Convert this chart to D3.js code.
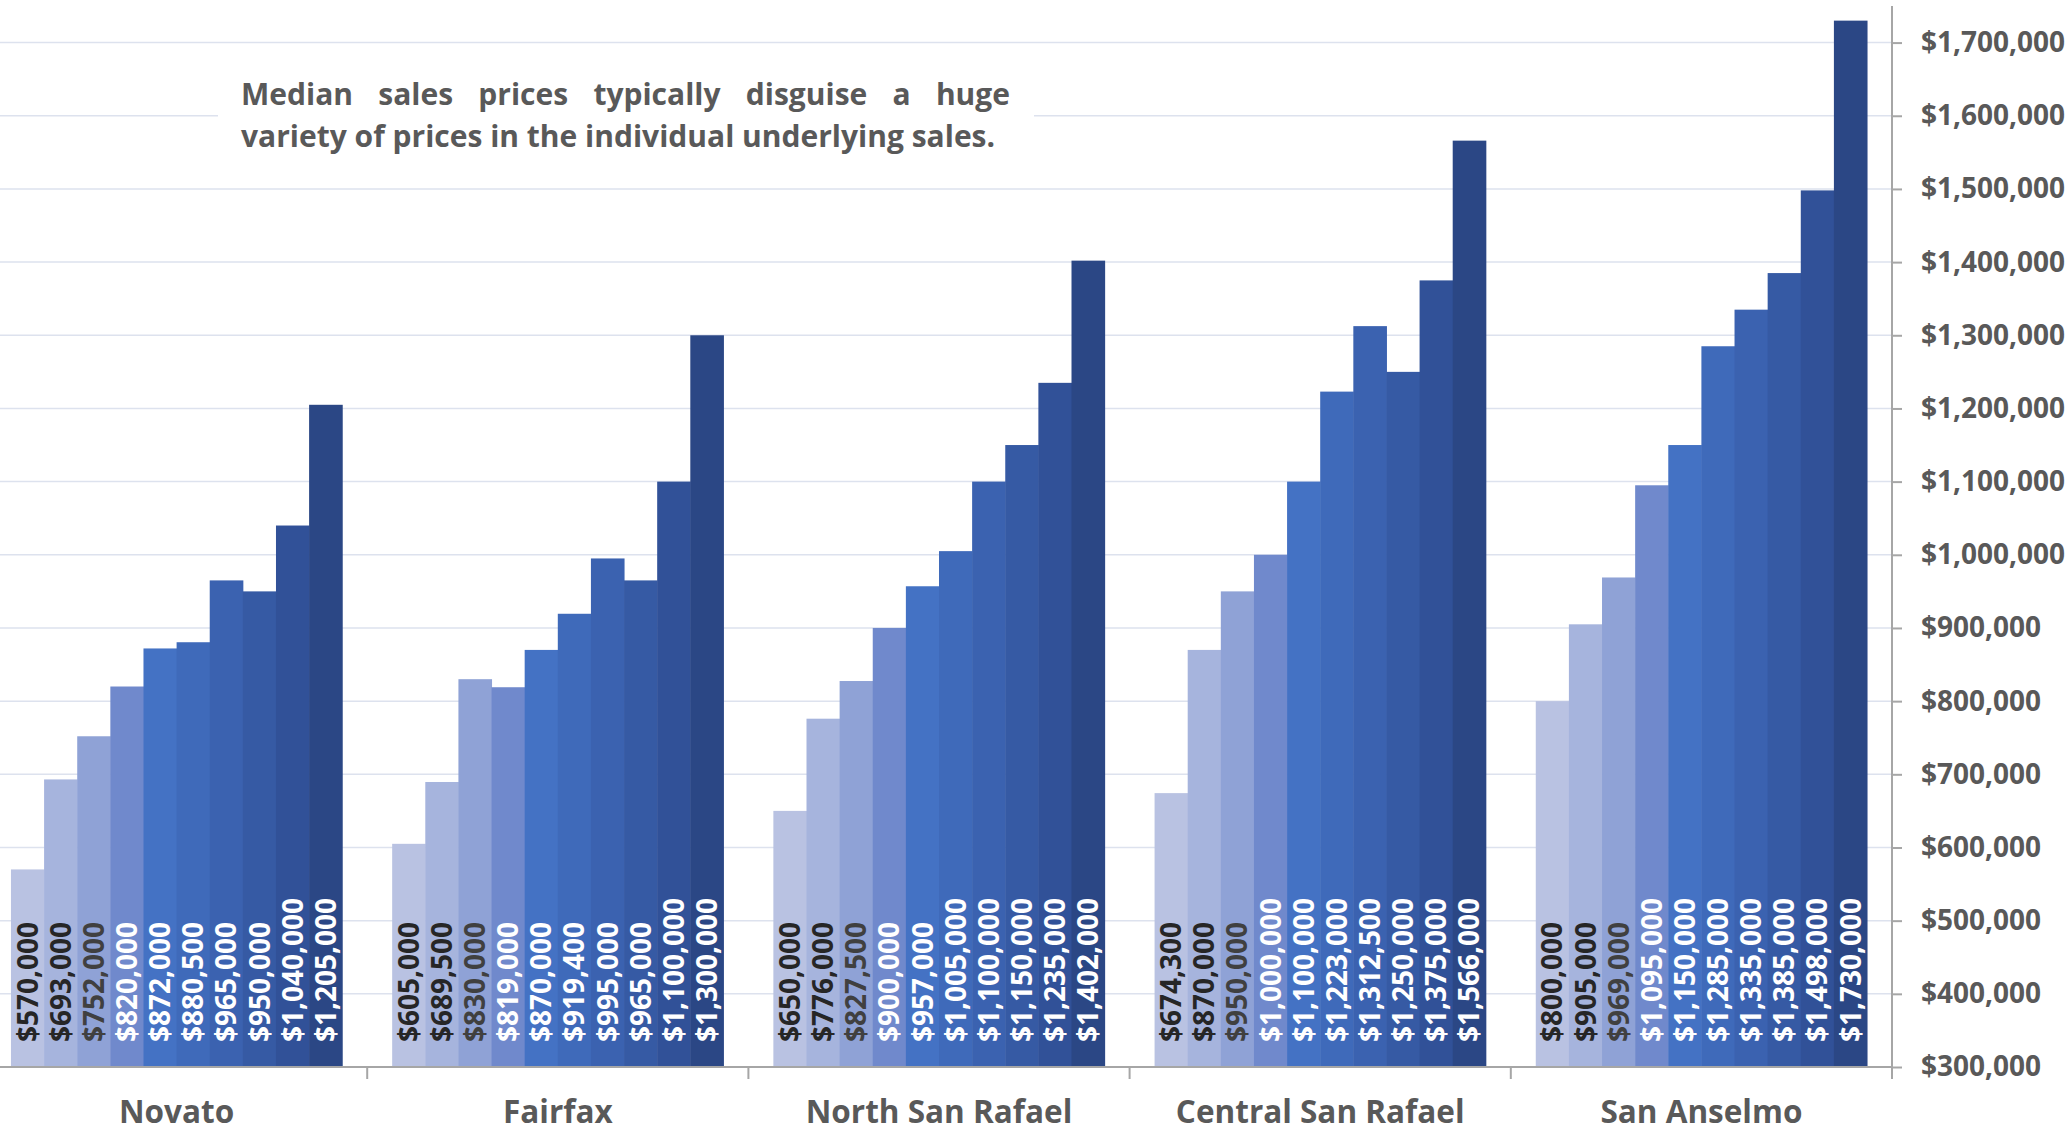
<!DOCTYPE html>
<html>
<head>
<meta charset="utf-8">
<script src="https://cdn.jsdelivr.net/npm/d3@7"></script>
<style>
body{margin:0;background:#fff;}
svg{display:block;}
text{font-family:"Open Sans",sans-serif;font-weight:bold;}
</style>
</head>
<body>
<svg id="chart"></svg>
<script>
// median sale prices, 10 price groups per area
var categories=["Novato","Fairfax","North San Rafael","Central San Rafael","San Anselmo"];
var novato=[570000,693000,752000,820000,872000,880500,965000,950000,1040000,1205000];
var fairfax=[605000,689500,830000,819000,870000,919400,995000,965000,1100000,1300000];
var northSR=[650000,776000,827500,900000,957000,1005000,1100000,1150000,1235000,1402000];
var centralSR=[674300,870000,950000,1000000,1100000,1223000,1312500,1250000,1375000,1566000];
var sanAnselmo=[800000,905000,969000,1095000,1150000,1285000,1335000,1385000,1498000,1730000];
var yTicks=[300000,400000,500000,600000,700000,800000,900000,1000000,1100000,1200000,1300000,1400000,1500000,1600000,1700000];
var note1="Median sales prices typically disguise a huge";
var note2="variety of prices in the individual underlying sales.";

var values=[novato,fairfax,northSR,centralSR,sanAnselmo];
var colors=["#b9c2e2","#a6b4dd","#8fa2d6","#7089cc","#4472c4","#3f6aba","#3b62b0","#365aa4","#315198","#2b4785"];
var lblColors=["#262626","#262626","#404040","#fff","#fff","#fff","#fff","#fff","#fff","#fff"];

var W=2070,H=1134,axisX=1892,base=1067;
var svg=d3.select("#chart").attr("width",W).attr("height",H);

var x0=d3.scaleBand().domain(categories).range([-14,axisX]).paddingInner(0.131).paddingOuter(0.0655),
    x1=d3.scaleBand().domain(d3.range(10)).range([0,x0.bandwidth()]),
    y=d3.scaleLinear().domain([300000,1750000]).range([base,6]);

// gridlines
svg.append("g").selectAll("line").data(yTicks.slice(1)).enter().append("line")
   .attr("x1",0).attr("x2",axisX)
   .attr("y1",function(d){return y(d);}).attr("y2",function(d){return y(d);})
   .attr("stroke","#dde2ee").attr("stroke-width",1.5);

// bars
var groups=svg.selectAll("g.grp").data(categories).enter().append("g")
   .attr("class","grp")
   .attr("transform",function(d){return "translate("+x0(d)+",0)";});
groups.selectAll("rect").data(function(d,i){return values[i];}).enter().append("rect")
   .attr("x",function(d,j){return x1(j);})
   .attr("y",function(d){return y(d);})
   .attr("width",x1.bandwidth()+0.5)
   .attr("height",function(d){return base-y(d);})
   .attr("fill",function(d,j){return colors[j];});
groups.selectAll("text").data(function(d,i){return values[i];}).enter().append("text")
   .attr("transform",function(d,j){return "translate("+(x1(j)+x1.bandwidth()/2)+","+(base-25)+") rotate(-90)";})
   .attr("dy","0.36em")
   .attr("font-size",28)
   .attr("fill",function(d,j){return lblColors[j];})
   .text(d3.format("$,"));

// note box
svg.append("rect").attr("x",218).attr("y",55).attr("width",816).attr("height",120).attr("fill","#fff");
var n1=svg.append("g").attr("fill","#595959").attr("font-size",30);
var words=note1.split(" ");
var wt=n1.selectAll("text").data(words).enter().append("text").attr("y",105).text(function(d){return d;});
var widths=[];wt.each(function(){widths.push(this.getComputedTextLength());});
var gap=(1010-241-d3.sum(widths))/(words.length-1),pos=241;
wt.attr("x",function(d,i){var p=pos;pos+=widths[i]+gap;return p;});
svg.append("text").attr("x",241).attr("y",147).attr("fill","#595959").attr("font-size",30).text(note2);

// right axis
var ya=svg.append("g").attr("transform","translate("+axisX+",0)")
   .call(d3.axisRight(y).tickValues(yTicks).tickFormat(d3.format("$,")).tickSize(10).tickPadding(19));
ya.select(".domain").remove();
ya.selectAll(".tick line").attr("stroke","#a6a6a6").attr("stroke-width",2);
ya.selectAll("text").attr("font-size",28).attr("fill","#595959").attr("font-family","Open Sans").attr("font-weight","bold");
svg.append("line").attr("x1",axisX).attr("x2",axisX).attr("y1",6).attr("y2",base+12)
   .attr("stroke","#a6a6a6").attr("stroke-width",2);

// bottom axis
svg.append("line").attr("x1",0).attr("x2",axisX).attr("y1",base).attr("y2",base)
   .attr("stroke","#a6a6a6").attr("stroke-width",2);
svg.append("g").selectAll("line").data(d3.range(1,5)).enter().append("line")
   .attr("x1",function(i){return x0.range()[0]+i*x0.step();})
   .attr("x2",function(i){return x0.range()[0]+i*x0.step();})
   .attr("y1",base).attr("y2",base+12)
   .attr("stroke","#a6a6a6").attr("stroke-width",2);
svg.append("g").selectAll("text").data(categories).enter().append("text")
   .attr("x",function(d){return x0(d)+x0.bandwidth()/2;})
   .attr("y",1123)
   .attr("text-anchor","middle")
   .attr("font-size",31.5)
   .attr("fill","#595959")
   .text(function(d){return d;});
</script>
</body>
</html>
